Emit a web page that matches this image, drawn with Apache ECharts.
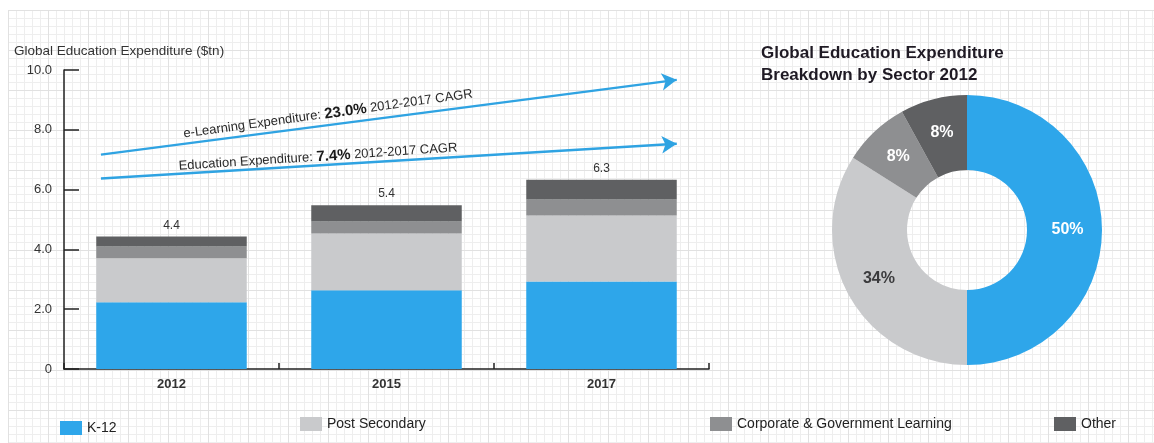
<!DOCTYPE html>
<html>
<head>
<meta charset="utf-8">
<script src="https://cdn.jsdelivr.net/npm/echarts@6/dist/echarts.min.js"></script>
<style>
  html, body { margin:0; padding:0; background:#fff; }
  #bg { position:absolute; left:8px; top:10px; width:1146px; height:433px;
    background-color:#fff;
    background-image:
      linear-gradient(#e1e1e1 1px, transparent 1px),
      linear-gradient(90deg, #e1e1e1 1px, transparent 1px),
      linear-gradient(#eeeeee 1px, transparent 1px),
      linear-gradient(90deg, #eeeeee 1px, transparent 1px);
    background-size: 40px 40px, 40px 40px, 8px 8px, 8px 8px; }
  #chart { position:absolute; left:0; top:0; width:1154px; height:443px; }
</style>
</head>
<body>
<div id="bg"></div>
<div id="chart"></div>
<script>
const years = ['2012', '2015', '2017'];
const k12 = [2.23, 2.63, 2.93];
const postSecondary = [1.47, 1.9, 2.2];
const corporateGov = [0.4, 0.4, 0.54];
const other = [0.33, 0.55, 0.66];
const totalLabels = ['4.4', '5.4', '6.3'];
const yTicks = [0, 2, 4, 6, 8, 10];
const sectorNames = ['K-12', 'Post Secondary', 'Corporate & Government Learning', 'Other'];
const share2012 = [50, 34, 8, 8];

const colors = ['#2ea6ea', '#c9cacc', '#8e8f91', '#5f6062'];
const font = 'Liberation Sans, Arial, Helvetica, sans-serif';

const chart = echarts.init(document.getElementById('chart'), null, { renderer: 'canvas' });

function barSeries(name, data, idx) {
  return {
    name: name, type: 'bar', stack: 'total', data: data, barWidth: '70%',
    itemStyle: { color: colors[idx] }, animation: false,
    emphasis: { disabled: true }
  };
}

const seriesList = [
  barSeries(sectorNames[0], k12, 0),
  barSeries(sectorNames[1], postSecondary, 1),
  barSeries(sectorNames[2], corporateGov, 2),
  Object.assign(barSeries(sectorNames[3], other, 3), {
    label: {
      show: true, position: 'top', distance: 5, color: '#333', fontSize: 12,
      fontFamily: font,
      formatter: p => totalLabels[p.dataIndex]
    }
  }),
  {
    name: 'arrows', type: 'line', xAxisIndex: 1, yAxisIndex: 0, data: [],
    animation: false, silent: true,
    markLine: {
      silent: true, animation: false,
      symbol: ['none', 'arrow'], symbolSize: [13, 15],
      label: { show: false },
      lineStyle: { color: '#2fa3e2', width: 2.5, type: 'solid' },
      data: [
        [{ coord: [0.172, 7.17] }, { coord: [2.85, 9.67] }],
        [{ coord: [0.172, 6.37] }, { coord: [2.85, 7.53] }]
      ]
    }
  },
  {
    name: 'Breakdown 2012', type: 'pie', center: [967, 230], radius: [60, 135],
    startAngle: 90, clockwise: true, animation: false,
    emphasis: { disabled: true },
    label: {
      show: true, position: 'inside', formatter: '{c}%',
      fontSize: 16, fontWeight: 'bold', color: '#fff', fontFamily: font
    },
    labelLine: { show: false },
    data: sectorNames.map((n, i) => ({
      name: n, value: share2012[i], itemStyle: { color: colors[i] },
      label: i === 1 ? { color: '#3b3b3d' } : undefined
    }))
  }
];

function legendAt(name, left, top) {
  return {
    data: [name], left: left, top: top, icon: 'rect',
    itemWidth: 22, itemHeight: 14, itemGap: 5,
    textStyle: { fontSize: 14, color: '#222', fontFamily: font },
    selectedMode: false
  };
}

const option = {
  backgroundColor: 'transparent',
  textStyle: { fontFamily: font },
  title: [
    {
      text: 'Global Education Expenditure\nBreakdown by Sector 2012',
      left: 756, top: 37,
      textStyle: { fontSize: 17, fontWeight: 'bold', color: '#1f1a24', lineHeight: 22, fontFamily: font }
    },
    {
      text: 'Global Education Expenditure ($tn)', left: 9, top: 39,
      textStyle: { fontSize: 13.5, fontWeight: 'normal', color: '#333', fontFamily: font }
    }
  ],
  legend: [
    legendAt(sectorNames[0], 55, 416),
    legendAt(sectorNames[1], 295, 412),
    legendAt(sectorNames[2], 705, 412),
    legendAt(sectorNames[3], 1049, 412)
  ],
  grid: { left: 64, right: 445, top: 70, bottom: 74, containLabel: false },
  xAxis: [
    {
      type: 'category', data: years,
      axisLine: { show: true, lineStyle: { color: '#222', width: 1.5 } },
      axisTick: { show: true, inside: true, length: 6, lineStyle: { color: '#222', width: 1.5 } },
      axisLabel: { fontSize: 13, fontWeight: 'bold', color: '#333', margin: 9, fontFamily: font },
      splitLine: { show: false }
    },
    { type: 'value', min: 0, max: 3, show: false }
  ],
  yAxis: {
    type: 'value', min: 0, max: 10, interval: 2,
    axisLine: { show: true, lineStyle: { color: '#222', width: 1.5 } },
    axisTick: { show: true, inside: true, length: 15, lineStyle: { color: '#222', width: 1.5 } },
    axisLabel: {
      fontSize: 13, color: '#333', margin: 12, fontFamily: font,
      formatter: v => (yTicks.indexOf(v) >= 0 ? (v === 0 ? '0' : v.toFixed(1)) : '')
    },
    splitLine: { show: false }
  },
  graphic: [
    {
      type: 'text', x: 328, y: 114, rotation: 0.138, silent: true,
      style: {
        text: '{a|e-Learning Expenditure: }{b|23.0%}{a| 2012-2017 CAGR}',
        align: 'center', verticalAlign: 'middle',
        rich: {
          a: { fontSize: 13, fill: '#2a2a2a', fontFamily: font },
          b: { fontSize: 15, fontWeight: 'bold', fill: '#1a1a1a', fontFamily: font }
        }
      }
    },
    {
      type: 'text', x: 318, y: 157, rotation: 0.066, silent: true,
      style: {
        text: '{a|Education Expenditure: }{b|7.4%}{a| 2012-2017 CAGR}',
        align: 'center', verticalAlign: 'middle',
        rich: {
          a: { fontSize: 13, fill: '#2a2a2a', fontFamily: font },
          b: { fontSize: 15, fontWeight: 'bold', fill: '#1a1a1a', fontFamily: font }
        }
      }
    }
  ],
  series: seriesList
};

chart.setOption(option);
</script>
</body>
</html>
